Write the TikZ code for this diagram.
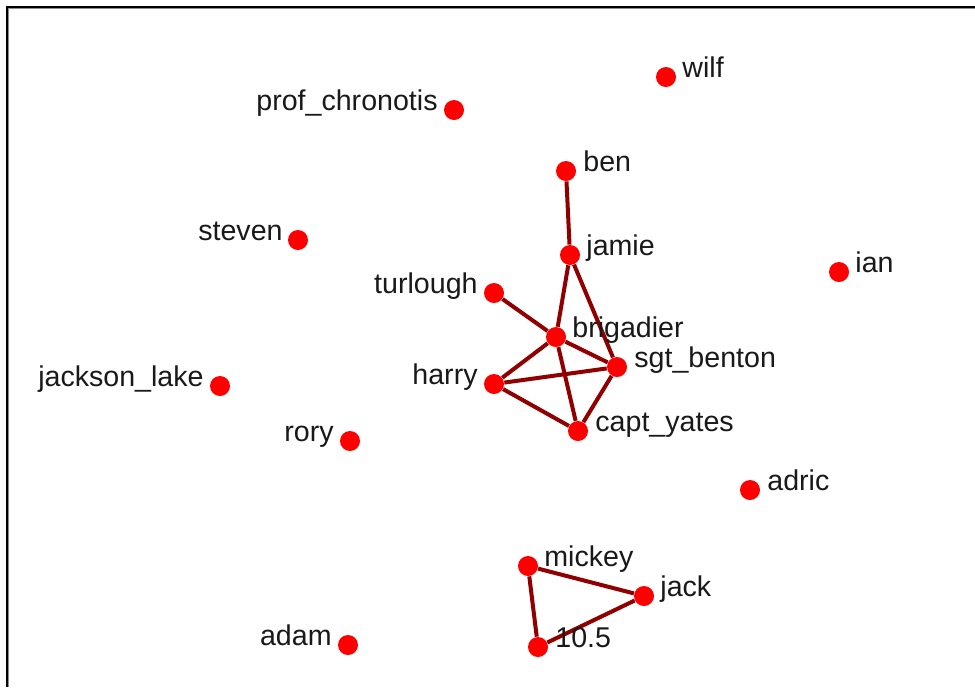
\documentclass[tikz,border=0pt]{standalone}
\usepackage{fontspec}
\setmainfont{Liberation Sans}
\definecolor{edgecol}{RGB}{145,0,0}
\definecolor{nodecol}{RGB}{255,0,0}
\begin{document}
\begin{tikzpicture}[x=0.5pt,y=-0.5pt,
  vert/.style={circle,fill=nodecol,draw=none,minimum size=10pt,inner sep=0pt},
  lbl/.style={inner sep=0pt,font=\fontsize{14.3}{17}\selectfont,text=black!90},
  rlab/.style={lbl,anchor=base west},
  llab/.style={lbl,anchor=base east},
  link/.style={draw=edgecol,line width=2pt}]
\useasboundingbox (0,0) rectangle (975,687);
\fill[white] (0,0) rectangle (975,687);
\draw[black,line width=1pt] (7,687) -- (7,7) -- (975,7);
\draw[black!45,line width=0.5pt] (8.5,687) -- (8.5,8.5) -- (975,8.5);
% vertices
\node[vert] (wilf) at (666,77) {};
\node[vert] (prof) at (454,110) {};
\node[vert] (ben) at (566,171) {};
\node[vert] (steven) at (298,240) {};
\node[vert] (jamie) at (570,255) {};
\node[vert] (ian) at (839,272) {};
\node[vert] (turlough) at (494,293) {};
\node[vert] (brig) at (556,337) {};
\node[vert] (sgt) at (617,367) {};
\node[vert] (harry) at (494,384) {};
\node[vert] (jlake) at (220,386) {};
\node[vert] (capt) at (578,431) {};
\node[vert] (rory) at (350,441) {};
\node[vert] (adric) at (750,490) {};
\node[vert] (mickey) at (528,566) {};
\node[vert] (jack) at (644,596) {};
\node[vert] (ten) at (538,647) {};
\node[vert] (adam) at (348,645) {};
% edges
\path[link] (ben) -- (jamie);
\path[link] (jamie) -- (brig);
\path[link] (jamie) -- (sgt);
\path[link] (turlough) -- (brig);
\path[link] (brig) -- (harry);
\path[link] (brig) -- (sgt);
\path[link] (brig) -- (capt);
\path[link] (harry) -- (sgt);
\path[link] (harry) -- (capt);
\path[link] (sgt) -- (capt);
\path[link] (mickey) -- (jack);
\path[link] (mickey) -- (ten);
\path[link] (jack) -- (ten);
% labels
\node[rlab] (lwilf) at (682,77) {wilf};
\node[llab] (lprof) at (438,110) {prof\_chronotis};
\node[rlab] (lben) at (583,171) {ben};
\node[llab] (lsteven) at (283,240) {steven};
\node[rlab] (ljamie) at (586,255) {jamie};
\node[rlab] (lian) at (855,272) {ian};
\node[llab] (lturlough) at (478,293) {turlough};
\node[rlab] (lbrig) at (572,337) {brigadier};
\node[rlab] (lsgt) at (634,367) {sgt\_benton};
\node[llab] (lharry) at (478,384) {harry};
\node[llab] (ljlake) at (204,386) {jackson\_lake};
\node[rlab] (lcapt) at (595,431) {capt\_yates};
\node[llab] (lrory) at (334,441) {rory};
\node[rlab] (ladric) at (767,490) {adric};
\node[rlab] (lmickey) at (544,566) {mickey};
\node[rlab] (ljack) at (660,596) {jack};
\node[rlab] (lten) at (555,647) {10.5};
\node[llab] (ladam) at (332,645) {adam};
\end{tikzpicture}
\end{document}
